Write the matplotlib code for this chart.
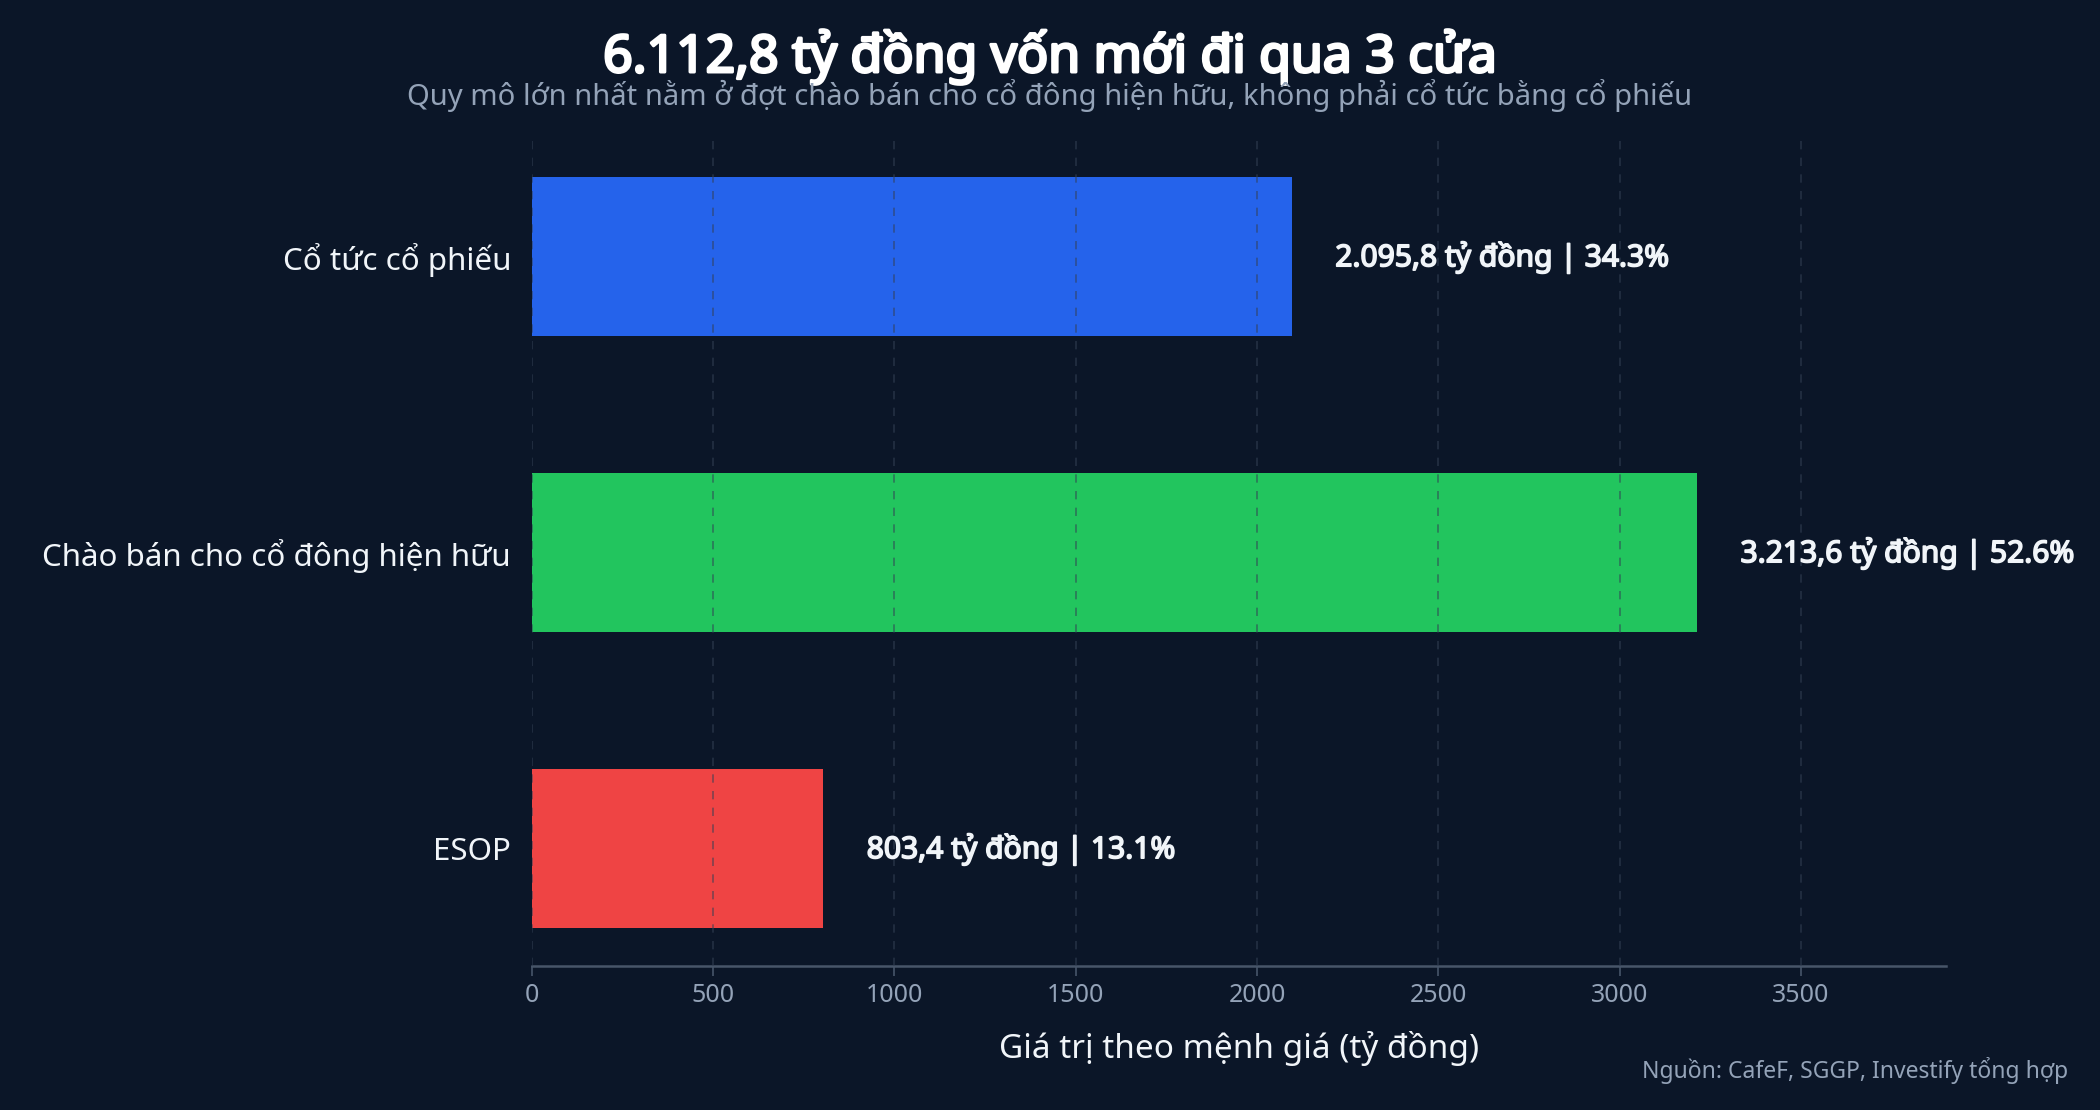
import matplotlib
matplotlib.use("Agg")
import matplotlib.pyplot as plt
import matplotlib.patheffects as pe
import numpy as np

categories = ["ESOP", "Chào bán cho cổ đông hiện hữu", "Cổ tức cổ phiếu"]
values = [803.4, 3213.6, 2095.8]
value_labels = ["803,4", "3.213,6", "2.095,8"]
shares = [13.1, 52.6, 34.3]
colors = ["#ef4444", "#22c55e", "#2563eb"]

BG = "#0b1628"
plt.rcParams['font.family'] = ['Noto Sans', 'DejaVu Sans']


def faux_bold(color, w):
    return [pe.Stroke(linewidth=w, foreground=color), pe.Normal()]


fig = plt.figure(figsize=(14, 7.4), dpi=150, facecolor=BG)
ax = fig.add_axes([0.2533, 0.1297, 0.6733, 0.745])
ax.set_facecolor(BG)

y = np.arange(len(categories))
ax.barh(y, values, height=0.54, color=colors, zorder=1)
ax.set_yticks(y)
ax.set_yticklabels(categories, fontsize=15, color="#f1f5f9")
ax.tick_params(axis='y', length=0, pad=10)
ax.tick_params(axis='x', colors="#475569", labelcolor="#94a3b8", labelsize=12, length=5, pad=3)
ax.set_xlim(0, 3900)
ax.set_xticks(np.arange(0, 3501, 500))
ax.grid(axis='x', linestyle=(0, (5, 5)), color="#334155", alpha=0.6, linewidth=0.8, zorder=2)
ax.set_axisbelow(False)
for s in ["top", "right", "left"]:
    ax.spines[s].set_visible(False)
ax.spines["bottom"].set_color("#475569")
ax.spines["bottom"].set_linewidth(1.2)

offset = 120
for yi, v, lab, sh in zip(y, values, value_labels, shares):
    ax.text(v + offset, yi, f"{lab} tỷ đồng | {sh:.1f}%", va="center", ha="left",
            fontsize=14.4, color="#f1f5f9", zorder=3,
            path_effects=faux_bold("#f1f5f9", 0.8))

ax.set_xlabel("Giá trị theo mệnh giá (tỷ đồng)", fontsize=16, color="#f1f5f9", labelpad=11)

fig.text(0.5, 0.949, "6.112,8 tỷ đồng vốn mới đi qua 3 cửa", ha="center", va="center",
         fontsize=24.8, color="#ffffff", path_effects=faux_bold("#ffffff", 1.4))
fig.text(0.5, 0.914, "Quy mô lớn nhất nằm ở đợt chào bán cho cổ đông hiện hữu, không phải cổ tức bằng cổ phiếu",
         ha="center", va="center", fontsize=14, color="#94a3b8")
fig.text(0.985, 0.036, "Nguồn: CafeF, SGGP, Investify tổng hợp", ha="right", va="center",
         fontsize=11, color="#94a3b8")

fig.savefig("out.png", dpi=150, facecolor=BG)
